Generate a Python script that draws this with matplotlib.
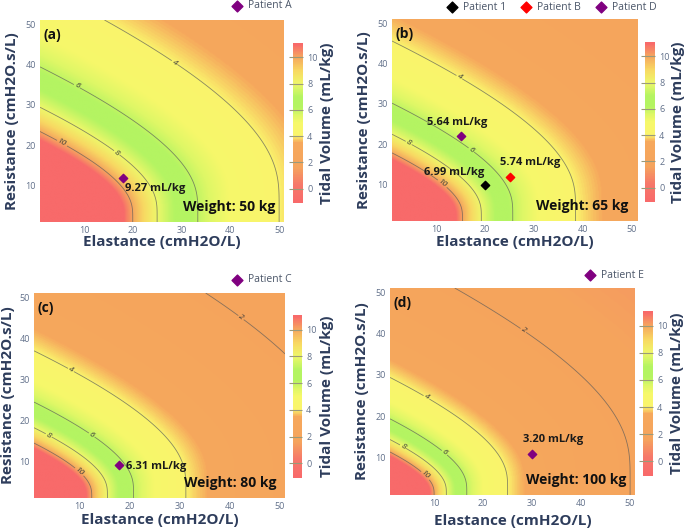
import numpy as np
import matplotlib
matplotlib.use("Agg")
import matplotlib.pyplot as plt
from matplotlib.colors import LinearSegmentedColormap, Normalize

plt.rcParams['font.family'] = ['Open Sans', 'DejaVu Sans']

# ventilation settings behind the maps
drive_pressure = 10.0   # cmH2O
insp_time = 1.2         # s
weights = [50, 65, 80, 100]
panel_tags = ['(a)', '(b)', '(c)', '(d)']
contour_levels = [2, 4, 6, 8, 10]

# patients per panel: name, elastance, resistance, colour, label
pat_names = [['Patient A'], ['Patient 1', 'Patient B', 'Patient D'], ['Patient C'], ['Patient E']]
pat_elast = [[18], [20, 25, 15], [18], [30]]
pat_resist = [[12], [10, 12, 22], [9], [11]]
pat_colors = [['#800080'], ['black', 'red', '#800080'], ['#800080'], ['#800080']]
pat_labels = [['9.27 mL/kg'], ['6.99 mL/kg', '5.74 mL/kg', '5.64 mL/kg'], ['6.31 mL/kg'], ['3.20 mL/kg']]
# where each label's centre sits (data coords)
lab_x = [[24.7], [13.6, 29.1, 14.3], [25.4], [34.3]]
lab_y = [[9.3], [12.9, 15.4, 25.3], [8.8], [14.5]]

# where the contour labels sit (data coords)
clab_pos = [
    [(28.6, 40.5), (8.6, 34.7), (16.7, 18.1), (5.5, 20.5)],
    [(14.8, 36.7), (18.0, 19.9), (4.4, 20.3), (12.1, 11.5)],
    [(42.0, 44.6), (8.4, 32.3), (12.4, 16.2), (3.9, 16.2), (9.9, 7.2)],
    [(28.1, 40.6), (8.4, 24.5), (11.9, 10.9), (3.5, 12.4), (7.9, 5.3)],
]

# colour scale of the tidal volume
cs_vals = [-1, 0.3, 1.6, 3.5, 4.0, 5.0, 5.6, 6.2, 7.0, 8.0, 9.0, 10.0, 11.0]
cs_cols = ['#f86a6a', '#f6786a', '#f5a45d', '#f6a85c', '#faf46c', '#f6f86a', '#ddf766',
           '#b4f462', '#b4f462', '#eef76a', '#f8d862', '#f5a85e', '#f86a6a']
vmin, vmax = -1.1, 11.1

cmap = LinearSegmentedColormap.from_list(
    'tv', [(0.0, '#f86a6a')] + [((v - vmin) / (vmax - vmin), c) for v, c in zip(cs_vals, cs_cols)] + [(1.0, '#f86a6a')])
norm = Normalize(vmin, vmax)

W, H = 685, 529
def fx(px):
    return px / W
def fy(py):
    return 1 - py / H

# axes boxes in pixels: left, top, right, bottom
ax_px = [(40, 20, 284, 222), (392, 19, 637, 221), (34, 293, 285, 498), (390, 288, 635, 495)]
cb_px = [(293, 43, 303, 203), (645, 42, 655, 202), (293, 315, 302, 478), (643, 311, 653, 476)]
ytitle_x = [12, 364, 8, 362]
xtitle_y = [242, 242, 520, 521]
cbtitle_x = [327, 678, 327, 677]
legend_right = [(292, 6), (657, 7), (292, 280), (644, 275)]

title_col = '#2e3d5c'
tick_col = '#61708a'

E = np.linspace(1, 51, 301)
R = np.linspace(1, 51, 301)
EE, RR = np.meshgrid(E, R)

fig = plt.figure(figsize=(6.85, 5.29), dpi=100)

for i in range(4):
    l, t, r, b = ax_px[i]
    ax = fig.add_axes([fx(l), fy(b), (r - l) / W, (b - t) / H])
    tv = drive_pressure / EE * (1 - np.exp(-insp_time * EE / RR)) * 1000 / weights[i]
    ax.imshow(tv, extent=[1, 51, 1, 51], origin='lower', cmap=cmap, norm=norm,
              aspect='auto', interpolation='bilinear')
    cs = ax.contour(EE, RR, tv, levels=contour_levels, colors='#5a5a5a',
                    linewidths=0.6, alpha=0.7)
    txts = ax.clabel(cs, fmt='%d', fontsize=6, colors='#3a3a3a', inline=True,
                     inline_spacing=1, manual=clab_pos[i])
    for tx in txts:
        tx.set_alpha(1)
        tx.set_fontstyle('italic')
    ax.set_xlim(1, 51)
    ax.set_ylim(1, 51)
    for s in ax.spines.values():
        s.set_visible(False)
    ax.set_xticks([10, 20, 30, 40, 50])
    ax.set_yticks([10, 20, 30, 40, 50])
    ax.tick_params(length=0, labelsize=6.5, colors=tick_col, pad=3)

    handles = []
    for k in range(len(pat_names[i])):
        h = ax.scatter(pat_elast[i][k], pat_resist[i][k], marker='D', s=18,
                       color=pat_colors[i][k], zorder=5, label=pat_names[i][k])
        handles.append(h)
        ax.text(lab_x[i][k], lab_y[i][k], pat_labels[i][k], ha='center', va='center',
                fontsize=8, fontweight='bold', color='#1a1a1a', zorder=6)

    ax.text(0.965, 0.04, 'Weight: %d kg' % weights[i], transform=ax.transAxes,
            ha='right', va='bottom', fontsize=10, fontweight='bold', color='#111111')
    ax.text(0.015, 0.96, panel_tags[i], transform=ax.transAxes, ha='left', va='top',
            fontsize=10, fontweight='bold', color='#111111')

    fig.text(fx(ytitle_x[i]), fy((t + b) / 2), 'Resistance (cmH2O.s/L)', rotation=90,
             ha='center', va='center', fontsize=11, fontweight='bold', color=title_col)
    fig.text(fx((l + r) / 2), fy(xtitle_y[i]), 'Elastance (cmH2O/L)',
             ha='center', va='center', fontsize=11, fontweight='bold', color=title_col)

    lx, ly = legend_right[i]
    fig.legend(handles=handles, loc='center right', bbox_to_anchor=(fx(lx), fy(ly)),
               ncol=len(handles), frameon=False, fontsize=7.5, labelcolor='#4a5568',
               handletextpad=0.1, columnspacing=0.9, borderaxespad=0, borderpad=0,
               markerscale=1.3)

    cl, ct, cr, cbm = cb_px[i]
    cax = fig.add_axes([fx(cl), fy(cbm), (cr - cl) / W, (cbm - ct) / H])
    sm = plt.cm.ScalarMappable(norm=norm, cmap=cmap)
    cb = fig.colorbar(sm, cax=cax, ticks=[0, 2, 4, 6, 8, 10])
    cb.outline.set_visible(False)
    cax.tick_params(direction='in', length=(cr - cl) * 0.72 + 3, width=0.8, color='#9a9a7a',
                    labelsize=6.5, labelcolor=tick_col, pad=3)
    fig.text(fx(cbtitle_x[i]), fy((ct + cbm) / 2), 'Tidal Volume (mL/kg)', rotation=90,
             ha='center', va='center', fontsize=11, fontweight='bold', color=title_col)

fig.savefig('out.png', dpi=100)
